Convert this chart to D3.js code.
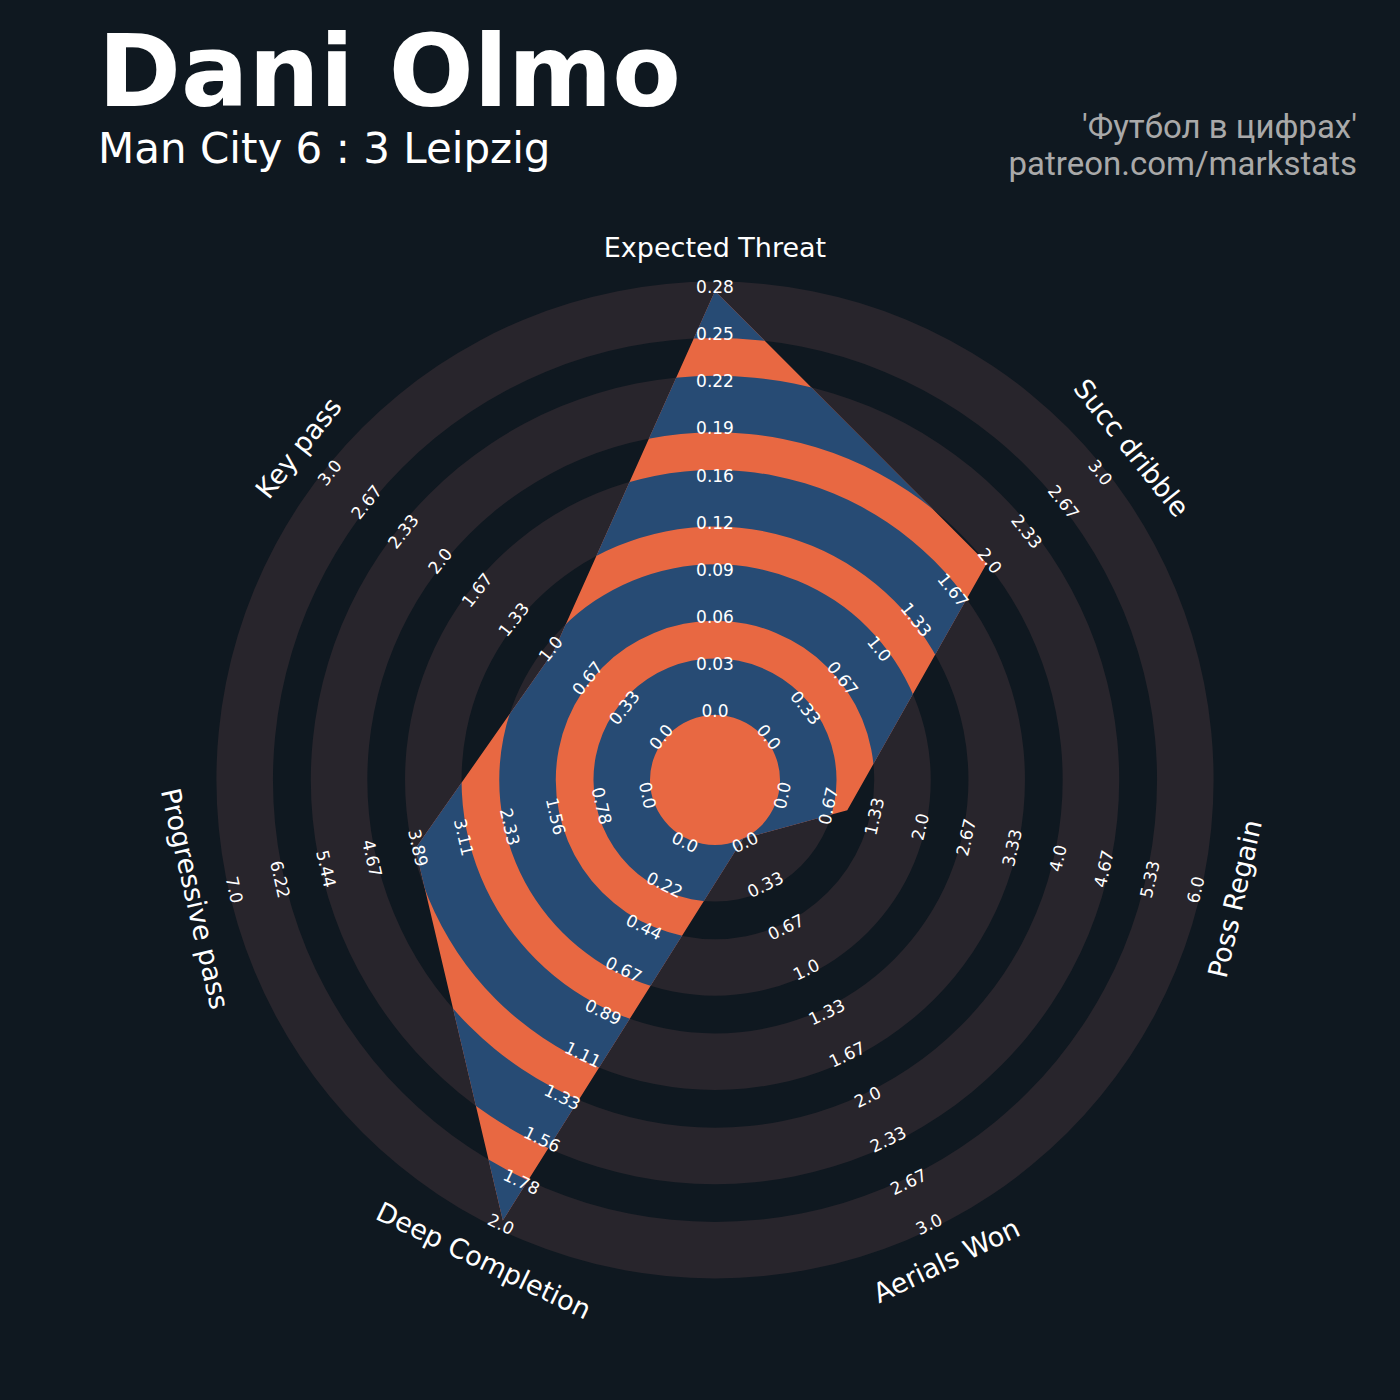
<!DOCTYPE html>
<html>
<head>
<meta charset="utf-8">
<script src="https://cdn.jsdelivr.net/npm/d3@7"></script>
<style>
  html, body { margin: 0; padding: 0; background: #0f1820; }
  svg { display: block; }
</style>
</head>
<body>
<svg id="chart"></svg>
<script>
var W = 1400, H = 1400;
var cx = 715, cy = 780;

// radar data
var params = ["Expected Threat", "Succ dribble", "Poss Regain", "Aerials Won", "Deep Completion", "Progressive pass", "Key pass"];
var minRange = [0, 0, 0, 0, 0, 0, 0];
var maxRange = [0.28, 3, 6, 3, 2, 7, 3];
var values = [0.28, 2, 1, 0, 2, 4, 1];

var numLabels = 10;
var bg = "#0f1820", ringColor = "#28252c", blue = "#274b74", orange = "#e86842";

var svg = d3.select("#chart")
  .attr("width", W)
  .attr("height", H)
  .style("background", bg);

svg.append("rect").attr("width", W).attr("height", H).attr("fill", bg);

var g = svg.append("g")
  .attr("transform", "translate(" + cx + "," + cy + ")");

var n = params.length;
var angle = function(i) { return i * 2 * Math.PI / n; };

// one scale per axis, all sharing the same radial range
var rMin = 65, rMax = 489;
var scales = params.map(function(p, i) {
  return d3.scaleLinear().domain([minRange[i], maxRange[i]]).range([rMin, rMax]);
});
// unit scale used for the background rings
var unit = d3.scaleLinear().domain([0, numLabels - 1]).range([rMin, rMax]);

function fmt(v) {
  var r = Math.round(v * 100) / 100;
  var s = String(r);
  if (s.indexOf(".") < 0) s += ".0";
  return s;
}

function textRot(i) {
  var a = i * 360 / n;
  if (a > 90 && a <= 270) a -= 180;
  else if (a > 270) a -= 360;
  return a;
}

function pos(i, r) {
  var a = angle(i);
  return [r * Math.sin(a), -r * Math.cos(a)];
}

// background rings
var ringIdx = d3.range(0, numLabels, 2);
var arc = d3.arc().startAngle(0).endAngle(2 * Math.PI);

g.selectAll("path.ring")
  .data(ringIdx)
  .enter().append("path")
  .attr("class", "ring")
  .attr("fill", ringColor)
  .attr("d", function(k) {
    return arc({ innerRadius: unit(k), outerRadius: unit(k + 1.2) });
  });

// radar polygon
var radial = d3.lineRadial()
  .angle(function(d, i) { return angle(i); })
  .radius(function(d, i) { return scales[i](d); })
  .curve(d3.curveLinearClosed);

svg.append("defs").append("clipPath")
  .attr("id", "radarClip")
  .append("path")
  .attr("transform", "translate(" + cx + "," + cy + ")")
  .attr("d", radial(values));

g.append("path")
  .attr("d", radial(values))
  .attr("fill", orange);

svg.append("g")
  .attr("clip-path", "url(#radarClip)")
  .append("g")
  .attr("transform", "translate(" + cx + "," + cy + ")")
  .selectAll("path")
  .data(ringIdx)
  .enter().append("path")
  .attr("fill", blue)
  .attr("d", function(k) {
    return arc({ innerRadius: unit(k), outerRadius: unit(k + 1.2) });
  });

// labels on top of everything
var labels = svg.append("g")
  .attr("transform", "translate(" + cx + "," + cy + ")");

// range labels
params.forEach(function(p, i) {
  var ticks = d3.range(numLabels).map(function(k) {
    return minRange[i] + k * (maxRange[i] - minRange[i]) / (numLabels - 1);
  });
  labels.selectAll("text.tick" + i)
    .data(ticks)
    .enter().append("text")
    .attr("class", "tick" + i)
    .attr("transform", function(t) {
      var p = pos(i, scales[i](t) + 4);
      return "translate(" + p[0] + "," + p[1] + ") rotate(" + textRot(i) + ")";
    })
    .attr("dy", "0.36em")
    .attr("text-anchor", "middle")
    .attr("fill", "#ffffff")
    .style("font-family", "DejaVu Sans")
    .style("font-size", "17px")
    .text(function(t) { return fmt(t); });
});

// parameter labels
labels.selectAll("text.param")
  .data(params)
  .enter().append("text")
  .attr("class", "param")
  .attr("transform", function(d, i) {
    var p = pos(i, 533);
    return "translate(" + p[0] + "," + p[1] + ") rotate(" + textRot(i) + ")";
  })
  .attr("dy", "0.36em")
  .attr("text-anchor", "middle")
  .attr("fill", "#ffffff")
  .style("font-family", "DejaVu Sans")
  .style("font-size", "27px")
  .text(function(d) { return d; });

// titles
svg.append("text")
  .attr("x", 98).attr("y", 106)
  .attr("fill", "#ffffff")
  .style("font-family", "DejaVu Sans")
  .style("font-weight", "bold")
  .style("font-size", "100px")
  .text("Dani Olmo");

svg.append("text")
  .attr("x", 98).attr("y", 163)
  .attr("fill", "#ffffff")
  .style("font-family", "DejaVu Sans")
  .style("font-size", "42px")
  .text("Man City 6 : 3 Leipzig");

svg.append("text")
  .attr("x", 1357).attr("y", 138)
  .attr("text-anchor", "end")
  .attr("fill", "#a9a9a9")
  .style("font-family", "Roboto")
  .style("font-size", "33px")
  .text("'Футбол в цифрах'");

svg.append("text")
  .attr("x", 1357).attr("y", 175)
  .attr("text-anchor", "end")
  .attr("fill", "#a9a9a9")
  .style("font-family", "Roboto")
  .style("font-size", "33px")
  .text("patreon.com/markstats");
</script>
</body>
</html>
